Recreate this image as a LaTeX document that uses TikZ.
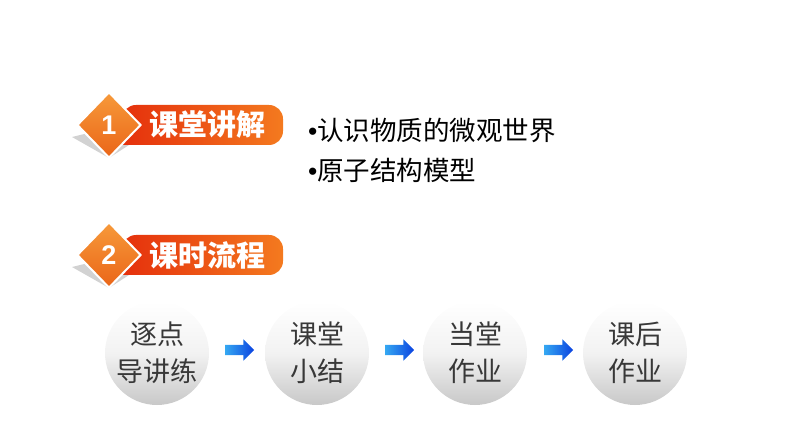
\documentclass[tikz,border=0pt]{standalone}
\usepackage{fontspec}
\setmainfont{Liberation Sans}
\newfontfamily\cjk{Noto Sans CJK SC}
\usetikzlibrary{shapes.geometric,shapes.arrows}
\definecolor{bannerred}{HTML}{E5300C}
\definecolor{bannerorange}{HTML}{F47A1F}
\definecolor{diamondtop}{HTML}{F79A3A}
\definecolor{diamondbot}{HTML}{EA6518}
\definecolor{ballgray}{HTML}{C8C8C8}
\definecolor{arrowlight}{HTML}{35A8F2}
\definecolor{arrowdark}{HTML}{0B43E0}
\tikzset{
	num/.style={diamond,draw=white,line width=2pt,top color=diamondtop,bottom color=diamondbot,inner sep=0,minimum width=64pt,minimum height=66pt,text=white,font=\fontsize{27}{27}\selectfont\bfseries},
	title/.style={text=white,inner sep=0,font=\cjk\fontsize{29}{29}\selectfont\bfseries},
	point/.style={anchor=west,inner sep=0,font=\cjk\fontsize{26.5}{26.5}\selectfont},
	ball/.style={circle,inner sep=0,minimum size=104pt,top color=white,bottom color=ballgray,middle color=black!5,text=black!78,align=center,font=\cjk\fontsize{27}{37}\selectfont},
	go/.style={single arrow,inner sep=0,text height=5pt,text depth=5pt,minimum height=29pt,single arrow head extend=5.5pt,left color=arrowlight,right color=arrowdark}
}
\begin{document}
\begin{tikzpicture}[x=1pt,y=1pt]
	\useasboundingbox (0,0) rectangle (794,447);
	% part 1
	\fill[gray!35] (72,310) -- (109,319) -- (129,302) -- (109,289) -- cycle;
	\shade[left color=bannerred,right color=bannerorange,rounded corners=14pt] (122,302) -- (283,302) -- (283,342) -- (122,342) [sharp corners] -- cycle;
	\node[num] (1) at (109,322) {1};
	\node[title] (t1) at (207,322) {课堂讲解};
	\node[point] (p1) at (308,317) {{\fontspec{Liberation Sans}•}认识物质的微观世界};
	\node[point] (p2) at (308,277) {{\fontspec{Liberation Sans}•}原子结构模型};
	% part 2
	\fill[gray!35] (72,180) -- (109,189) -- (129,172) -- (109,159) -- cycle;
	\shade[left color=bannerred,right color=bannerorange,rounded corners=14pt] (122,172) -- (283,172) -- (283,212) -- (122,212) [sharp corners] -- cycle;
	\node[num] (2) at (109,192) {2};
	\node[title] (t2) at (207,192) {课时流程};
	% flow
	\node[ball] (a) at (157,94) {逐点\\导讲练};
	\node[ball] (b) at (317,94) {课堂\\小结};
	\node[ball] (c) at (475,94) {当堂\\作业};
	\node[ball] (d) at (635,94) {课后\\作业};
	\node[go] (ab) at (237,97) {};
	\node[go] (bc) at (397,97) {};
	\node[go] (cd) at (556,97) {};
\end{tikzpicture}
\end{document}
